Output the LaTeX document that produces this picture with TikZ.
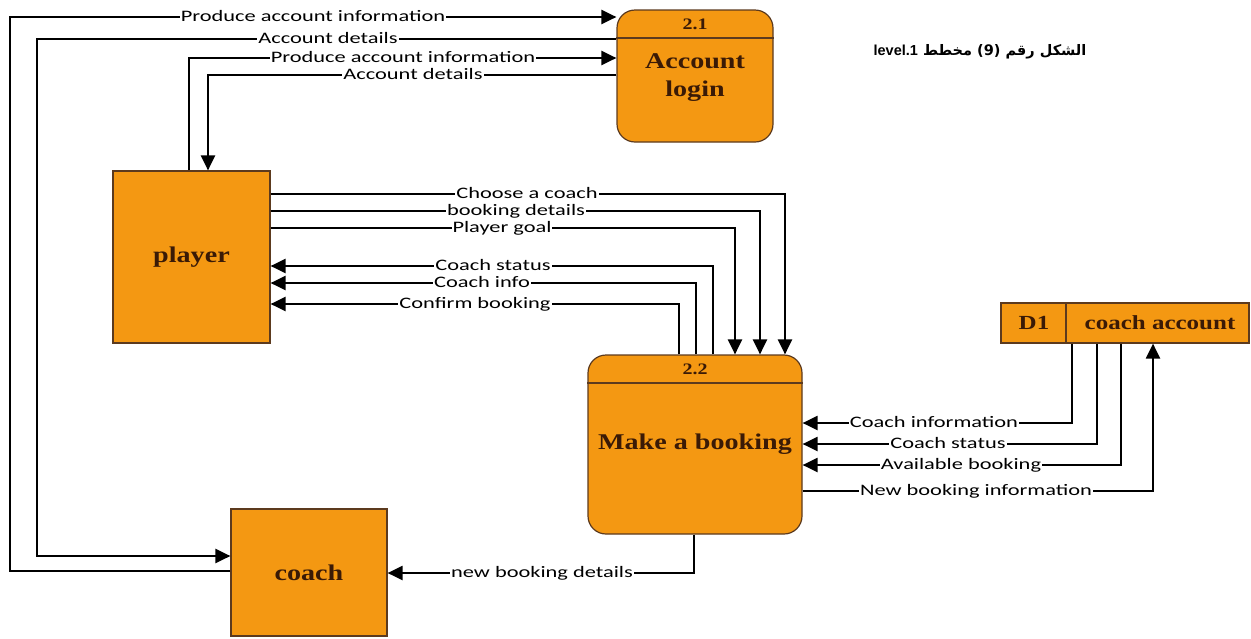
\documentclass[tikz,border=0pt]{standalone}
\usepackage{fontspec}
\usetikzlibrary{arrows.meta}
\TeXXeTstate=1
\newfontfamily\labfont[FakeStretch=1.4]{Carlito}
\newfontfamily\boxfont[FakeStretch=1.25]{Liberation Serif}
\newfontfamily\arabicfont[Script=Arabic]{DejaVu Sans}
\newfontfamily\capfont{Liberation Sans}
\definecolor{procfill}{RGB}{244,152,18}
\definecolor{edgebrown}{RGB}{92,58,30}
\definecolor{txtbrown}{RGB}{58,26,6}
\tikzset{
  entity/.style={draw=edgebrown, line width=1.2pt, fill=procfill, inner sep=0pt,
    font=\boxfont\bfseries\fontsize{22.5}{28}\selectfont, text=txtbrown, align=center},
  process/.style={entity, rounded corners=18pt},
  boxtext/.style={inner sep=0pt, text=txtbrown, align=center, font=\boxfont\bfseries\fontsize{20}{22}\selectfont},
  numtext/.style={inner sep=0pt, text=txtbrown, font=\boxfont\bfseries\fontsize{16}{16}\selectfont},
  wire/.style={draw=black, line width=2.2pt},
  flow/.style={wire, -{Triangle[length=15pt,width=14pt]}},
  lab/.style={fill=white, inner xsep=1pt, inner ysep=0pt, text height=11pt, text depth=3pt,
    font=\labfont\fontsize{16}{17}\selectfont},
}
\begin{document}
\begin{tikzpicture}[x=1pt,y=-1pt]
\useasboundingbox (0,0) rectangle (1251,638);

% processes, entities and the data store
\node[process, minimum width=156pt, minimum height=132pt] (acc) at (695,76) {};
\draw[edgebrown, line width=1.2pt] (acc.west |- 0,38) -- (acc.east |- 0,38);
\node[numtext] (accnum) at (695,24) {2.1};
\node[boxtext, font=\boxfont\bfseries\fontsize{22.5}{28}\selectfont] (acctext) at (695,78) {Account\\login};

\node[entity, minimum width=157pt, minimum height=172pt] (player) at (191.5,257) {player};
\node[entity, minimum width=156pt, minimum height=127pt] (coach) at (309,572.5) {coach};

\node[process, minimum width=214pt, minimum height=179pt] (book) at (695,444.5) {Make a booking};
\draw[edgebrown, line width=1.2pt] (book.west |- 0,383) -- (book.east |- 0,383);
\node[numtext] (booknum) at (695,369) {2.2};

\node[entity, minimum width=248pt, minimum height=40pt] (d1) at (1125,323) {};
\draw[edgebrown, line width=1.2pt] (d1.north -| 1066,0) -- (d1.south -| 1066,0);
\node[boxtext] (d1id) at (1034,323) {D1};
\node[boxtext] (d1name) at (1160,323) {coach account};

% caption
\node[inner sep=0pt] (cap) at (980,52)
  {\arabicfont\bfseries\fontsize{14.5}{15}\selectfont\beginR الشكل رقم (9) مخطط \beginL{\capfont\bfseries level.1}\endL\endR};

% account login flows
\draw[flow] (coach.west |- 0,571) -| (10,17) -- (acc.west |- 0,17);
\draw[flow] (acc.west |- 0,39) -| (37,556) -- (coach.west |- 0,556);
\draw[flow] (player.north -| 189,0) |- (acc.west |- 0,58);
\draw[flow] (acc.west |- 0,75) -| (player.north -| 208,0);

% player <-> make a booking
\draw[flow] (player.east |- 0,194) -| (book.north -| 785,0);
\draw[flow] (player.east |- 0,211) -| (book.north -| 760,0);
\draw[flow] (player.east |- 0,228) -| (book.north -| 735,0);
\draw[flow] (book.north -| 713,0) |- (player.east |- 0,266);
\draw[flow] (book.north -| 696,0) |- (player.east |- 0,283);
\draw[flow] (book.north -| 679,0) |- (player.east |- 0,304);

% data store <-> make a booking
\draw[flow] (d1.south -| 1072,0) |- (book.east |- 0,423);
\draw[flow] (d1.south -| 1097,0) |- (book.east |- 0,444);
\draw[flow] (d1.south -| 1121,0) |- (book.east |- 0,465);
\draw[flow] (book.east |- 0,491) -| (d1.south -| 1153,0);

% make a booking -> coach
\draw[flow] (book.south -| 694,0) |- (coach.east |- 0,573);

% flow labels
\node[lab] (l1) at (313,17) {Produce account information};
\node[lab] (l2) at (328,39) {Account details};
\node[lab] (l3) at (403,58) {Produce account information};
\node[lab] (l4) at (413,75) {Account details};
\node[lab] (l5) at (527,194) {Choose a coach};
\node[lab] (l6) at (516,211) {booking details};
\node[lab] (l7) at (502,228) {Player goal};
\node[lab] (l8) at (493,266) {Coach status};
\node[lab] (l9) at (482,283) {Coach info};
\node[lab] (l10) at (475,304) {Confirm booking};
\node[lab] (l11) at (934,423) {Coach information};
\node[lab] (l12) at (948,444) {Coach status};
\node[lab] (l13) at (961,465) {Available booking};
\node[lab] (l14) at (976,491) {New booking information};
\node[lab] (l15) at (542,573) {new booking details};
\end{tikzpicture}
\end{document}
